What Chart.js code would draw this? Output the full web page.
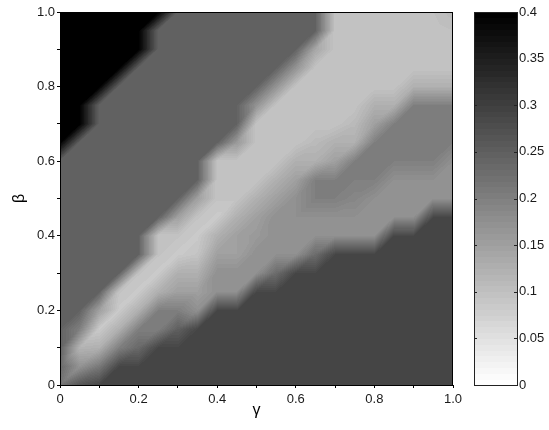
<!DOCTYPE html>
<html>
<head>
<meta charset="utf-8">
<script src="https://cdn.jsdelivr.net/npm/chart.js@4.4.1/dist/chart.umd.min.js"></script>
<style>
  html, body { margin: 0; padding: 0; background: #fff; }
  #wrap { width: 549px; height: 430px; }
</style>
</head>
<body>
<div id="wrap"><canvas id="heatChart"></canvas></div>
<script>
// grid nodes (gamma across, beta down from 1.0 to 0)
const gammaNodes = [0, 0.05, 0.1, 0.15, 0.2, 0.25, 0.3, 0.35, 0.4, 0.45, 0.5, 0.55, 0.6, 0.65, 0.7, 0.75, 0.8, 0.85, 0.9, 0.95, 1.0];
const betaNodes = [1.0, 0.95, 0.9, 0.85, 0.8, 0.75, 0.7, 0.65, 0.6, 0.55, 0.5, 0.45, 0.4, 0.35, 0.3, 0.25, 0.2, 0.15, 0.1, 0.05, 0];

// values, one row per beta node
const values = [
  [0.40,0.40,0.40,0.40,0.40,0.40,0.245,0.245,0.245,0.245,0.245,0.245,0.245,0.245,0.095,0.095,0.095,0.095,0.095,0.10,0.11],
  [0.40,0.40,0.40,0.40,0.40,0.245,0.245,0.245,0.245,0.245,0.245,0.245,0.245,0.245,0.095,0.095,0.095,0.095,0.095,0.095,0.10],
  [0.40,0.40,0.40,0.40,0.40,0.245,0.245,0.245,0.245,0.245,0.245,0.245,0.245,0.14,0.095,0.095,0.095,0.095,0.095,0.095,0.095],
  [0.40,0.40,0.40,0.40,0.245,0.245,0.245,0.245,0.245,0.245,0.245,0.245,0.17,0.095,0.095,0.095,0.095,0.095,0.095,0.095,0.095],
  [0.40,0.40,0.40,0.245,0.245,0.245,0.245,0.245,0.245,0.245,0.245,0.17,0.095,0.095,0.095,0.095,0.095,0.095,0.125,0.125,0.125],
  [0.40,0.40,0.245,0.245,0.245,0.245,0.245,0.245,0.245,0.245,0.17,0.095,0.095,0.095,0.095,0.095,0.125,0.125,0.20,0.20,0.20],
  [0.40,0.40,0.245,0.245,0.245,0.245,0.245,0.245,0.245,0.245,0.095,0.095,0.095,0.095,0.095,0.11,0.15,0.20,0.20,0.20,0.20],
  [0.40,0.245,0.245,0.245,0.245,0.245,0.245,0.245,0.245,0.16,0.095,0.095,0.095,0.11,0.125,0.125,0.20,0.20,0.20,0.20,0.20],
  [0.245,0.245,0.245,0.245,0.245,0.245,0.245,0.245,0.095,0.095,0.095,0.095,0.125,0.125,0.15,0.20,0.20,0.20,0.20,0.20,0.175],
  [0.245,0.245,0.245,0.245,0.245,0.245,0.245,0.245,0.095,0.095,0.095,0.125,0.15,0.20,0.20,0.20,0.20,0.175,0.175,0.175,0.175],
  [0.245,0.245,0.245,0.245,0.245,0.245,0.245,0.15,0.095,0.095,0.125,0.15,0.175,0.20,0.20,0.19,0.175,0.175,0.175,0.175,0.175],
  [0.245,0.245,0.245,0.245,0.245,0.245,0.15,0.095,0.085,0.125,0.15,0.175,0.175,0.175,0.175,0.175,0.175,0.175,0.175,0.288,0.288],
  [0.245,0.245,0.245,0.245,0.245,0.095,0.095,0.085,0.125,0.15,0.16,0.175,0.175,0.175,0.175,0.175,0.175,0.288,0.288,0.288,0.288],
  [0.245,0.245,0.245,0.245,0.245,0.095,0.085,0.095,0.15,0.15,0.175,0.175,0.175,0.23,0.288,0.288,0.288,0.288,0.288,0.288,0.288],
  [0.245,0.245,0.245,0.245,0.095,0.085,0.125,0.125,0.175,0.175,0.175,0.23,0.288,0.288,0.288,0.288,0.288,0.288,0.288,0.288,0.288],
  [0.245,0.245,0.245,0.095,0.085,0.125,0.15,0.15,0.175,0.175,0.288,0.288,0.288,0.288,0.288,0.288,0.288,0.288,0.288,0.288,0.288],
  [0.245,0.245,0.15,0.085,0.125,0.20,0.20,0.175,0.288,0.288,0.288,0.288,0.288,0.288,0.288,0.288,0.288,0.288,0.288,0.288,0.288],
  [0.245,0.20,0.085,0.125,0.20,0.20,0.25,0.288,0.288,0.288,0.288,0.288,0.288,0.288,0.288,0.288,0.288,0.288,0.288,0.288,0.288],
  [0.245,0.12,0.125,0.20,0.235,0.288,0.288,0.288,0.288,0.288,0.288,0.288,0.288,0.288,0.288,0.288,0.288,0.288,0.288,0.288,0.288],
  [0.235,0.17,0.21,0.288,0.288,0.288,0.288,0.288,0.288,0.288,0.288,0.288,0.288,0.288,0.288,0.288,0.288,0.288,0.288,0.288,0.288],
  [0.215,0.265,0.288,0.288,0.288,0.288,0.288,0.288,0.288,0.288,0.288,0.288,0.288,0.288,0.288,0.288,0.288,0.288,0.288,0.288,0.288]
];

const axisTicks = [0, 0.2, 0.4, 0.6, 0.8, 1.0];
const axisTickLabels = ['0', '0.2', '0.4', '0.6', '0.8', '1.0'];
const colorTicks = [0, 0.05, 0.1, 0.15, 0.2, 0.25, 0.3, 0.35, 0.4];
const colorTickLabels = ['0', '0.05', '0.1', '0.15', '0.2', '0.25', '0.3', '0.35', '0.4'];
const colorMin = 0;
const colorMax = 0.4;
const colorLevels = 64;

function labelFor(val, ticks, labels) {
    for (let i = 0; i < ticks.length; i++) {
        if (Math.abs(ticks[i] - val) < 1e-6) return labels[i];
    }
    return '';
}

// reversed gray colormap, 64 steps like the colorbar
function grayFor(v) {
    let k = Math.floor((v - colorMin) / (colorMax - colorMin) * colorLevels);
    k = Math.max(0, Math.min(colorLevels - 1, k));
    return Math.round(255 * (1 - k / (colorLevels - 1)));
}

// linear interpolation on triangles (cell split lower-left to upper-right)
function sample(g, b) {
    let j = 0;
    while (j < gammaNodes.length - 2 && g > gammaNodes[j + 1]) j++;
    let i = 0;
    while (i < betaNodes.length - 2 && b < betaNodes[i + 1]) i++;
    let tx = (g - gammaNodes[j]) / (gammaNodes[j + 1] - gammaNodes[j]);
    let ty = (b - betaNodes[i + 1]) / (betaNodes[i] - betaNodes[i + 1]);
    tx = Math.max(0, Math.min(1, tx));
    ty = Math.max(0, Math.min(1, ty));
    const v00 = values[i + 1][j], v10 = values[i + 1][j + 1];
    const v01 = values[i][j], v11 = values[i][j + 1];
    if (tx >= ty) return v00 + tx * (v10 - v00) + ty * (v11 - v10);
    return v00 + ty * (v01 - v00) + tx * (v11 - v01);
}

const points = [];
betaNodes.forEach((b, i) => {
    gammaNodes.forEach((g, j) => points.push({ x: g, y: b, v: values[i][j] }));
});

const heatLayer = {
    id: "heatLayer",
    beforeDatasetsDraw(chart) {
        const { ctx, chartArea: area, scales } = chart;
        const w = Math.round(area.right - area.left);
        const h = Math.round(area.bottom - area.top);
        const off = document.createElement("canvas");
        off.width = w;
        off.height = h;
        const octx = off.getContext("2d");
        const img = octx.createImageData(w, h);
        for (let py = 0; py < h; py++) {
            const b = scales.y.getValueForPixel(area.top + py + 0.5);
            for (let px = 0; px < w; px++) {
                const g = scales.x.getValueForPixel(area.left + px + 0.5);
                const c = grayFor(sample(g, b));
                const o = (py * w + px) * 4;
                img.data[o] = c;
                img.data[o + 1] = c;
                img.data[o + 2] = c;
                img.data[o + 3] = 255;
            }
        }
        octx.putImageData(img, 0, 0);
        ctx.drawImage(off, area.left, area.top, w, h);
    },
    afterDraw(chart) {
        const { ctx, chartArea: area, scales } = chart;
        ctx.save();
        ctx.strokeStyle = "#000";
        ctx.lineWidth = 1;
        ctx.strokeRect(area.left + 0.5, area.top + 0.5, area.right - area.left - 1, area.bottom - area.top);

        // colorbar
        const cb = scales.cb;
        const x0 = Math.round(cb.left + 21);
        const bw = 43;
        for (let k = 0; k < colorLevels; k++) {
            const yLow = cb.getPixelForValue(colorMin + (colorMax - colorMin) * k / colorLevels);
            const yHigh = cb.getPixelForValue(colorMin + (colorMax - colorMin) * (k + 1) / colorLevels);
            const c = Math.round(255 * (1 - k / (colorLevels - 1)));
            ctx.fillStyle = `rgb(${c},${c},${c})`;
            ctx.fillRect(x0, Math.floor(yHigh), bw, Math.ceil(yLow) - Math.floor(yHigh));
        }
        ctx.strokeStyle = "#222";
        const top = cb.getPixelForValue(colorMax);
        const bot = cb.getPixelForValue(colorMin);
        ctx.strokeRect(x0 + 0.5, Math.round(top) + 0.5, bw, Math.round(bot - top));
        ctx.beginPath();
        colorTicks.forEach(t => {
            const yy = Math.round(cb.getPixelForValue(t)) + 0.5;
            ctx.moveTo(x0, yy); ctx.lineTo(x0 + 3, yy);
            ctx.moveTo(x0 + bw, yy); ctx.lineTo(x0 + bw - 3, yy);
        });
        ctx.stroke();
        ctx.restore();
    }
};

const tickFont = { family: "'Liberation Sans', Arial, sans-serif", size: 13 };
const titleFont = { family: "'Liberation Sans', Arial, sans-serif", size: 16 };

new Chart(document.getElementById("heatChart").getContext("2d"), {
    type: "scatter",
    data: {
        datasets: [{
            label: "grid",
            data: points,
            pointRadius: 0,
            pointHoverRadius: 0
        }]
    },
    options: {
        responsive: true,
        maintainAspectRatio: false,
        animation: false,
        events: [],
        layout: { padding: { top: 12, left: 0, right: 0, bottom: 0 } },
        plugins: {
            legend: { display: false },
            tooltip: { enabled: false }
        },
        scales: {
            x: {
                type: "linear",
                min: 0,
                max: 1,
                afterFit: s => { s.height = 45; },
                border: { display: false },
                grid: { drawOnChartArea: false, tickLength: 3, color: "#000" },
                ticks: {
                    stepSize: 0.1,
                    autoSkip: false,
                    maxRotation: 0,
                    padding: 4,
                    color: "#1a1a1a",
                    font: tickFont,
                    callback: v => labelFor(v, axisTicks, axisTickLabels)
                },
                title: { display: true, text: "γ", color: "#000", font: titleFont, padding: { top: 0, bottom: 10 } }
            },
            y: {
                type: "linear",
                min: 0,
                max: 1,
                afterFit: s => { s.width = 60; },
                border: { display: false },
                grid: { drawOnChartArea: false, tickLength: 3, color: "#000" },
                ticks: {
                    stepSize: 0.1,
                    autoSkip: false,
                    padding: 2,
                    color: "#1a1a1a",
                    font: tickFont,
                    callback: v => labelFor(v, axisTicks, axisTickLabels)
                },
                title: { display: true, text: "β", color: "#000", font: titleFont, padding: { top: 10, bottom: 0 } }
            },
            cb: {
                type: "linear",
                position: "right",
                min: colorMin,
                max: colorMax,
                afterFit: s => { s.width = 96; s.paddingTop = 8; s.paddingBottom = 8; },
                border: { display: false },
                grid: { display: false, drawTicks: false },
                ticks: {
                    stepSize: 0.05,
                    autoSkip: false,
                    padding: 66,
                    color: "#1a1a1a",
                    font: tickFont,
                    callback: v => labelFor(v, colorTicks, colorTickLabels)
                }
            }
        }
    },
    plugins: [heatLayer]
});
</script>
</body>
</html>
